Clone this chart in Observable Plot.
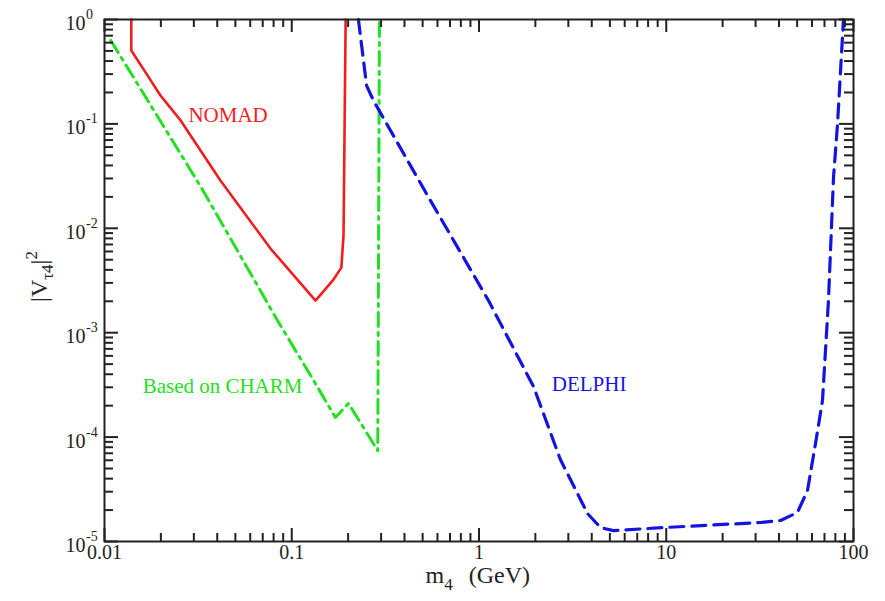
<!DOCTYPE html>
<html><head><meta charset="utf-8">
<script src="https://cdn.jsdelivr.net/npm/d3@7"></script>
<script src="https://cdn.jsdelivr.net/npm/@observablehq/plot@0.6"></script>
<style>body{margin:0;background:#fff}</style>
</head><body><div id="chart"></div>
<script>
// ---- data ----
const nomadX = [0.0139, 0.0139, 0.0166, 0.0199, 0.0255, 0.0416, 0.077, 0.134, 0.167, 0.184, 0.189, 0.194];
const nomadY = [1, 0.505, 0.31, 0.187, 0.108, 0.0287, 0.0064, 0.00203, 0.00323, 0.0042, 0.0085, 1];
const charmX = [0.0108, 0.0326, 0.0839, 0.129, 0.171, 0.201, 0.288, 0.294];
const charmY = [0.63, 0.0252, 0.00131, 3.64e-4, 1.54e-4, 2.10e-4, 7.4e-5, 1];
const delphiX = [0.227, 0.251, 0.273, 0.531, 1.124, 1.955, 2.72, 3.80, 4.46, 5.23, 9.67, 31.9, 40.8, 50.2, 56.8, 62.7, 68.3, 73.5, 78.2, 82.2, 88.4];
const delphiY = [1, 0.233, 0.1675, 0.0206, 0.00203, 3.05e-4, 6.1e-5, 1.85e-5, 1.36e-5, 1.27e-5, 1.36e-5, 1.52e-5, 1.59e-5, 1.9e-5, 3.08e-5, 8.7e-5, 2.24e-4, 2.03e-3, 0.0307, 0.101, 1];

const curveLabels = ["NOMAD", "Based on CHARM", "DELPHI"];
const curveLabelX = [0.0457, 0.0427, 3.87];
const curveLabelY = [0.1217, 3.09e-4, 3.23e-4];

const xTickValues = [0.01, 0.1, 1, 10, 100];
const xTickLabels = ["0.01", "0.1", "1", "10", "100"];
const yTickValues = [1, 0.1, 0.01, 0.001, 0.0001, 0.00001];
const yTickExponents = ["0", "-1", "-2", "-3", "-4", "-5"];
const minorMultipliers = [2, 3, 4, 5, 6, 7, 8, 9];

// ---- layout / style ----
const W = 885, H = 601, mL = 104, mR = 32, mT = 19, mB = 60;
const fw = W - mL - mR, fh = H - mT - mB;
const majX = 13, minX = 8, majY = 14, minY = 9;
const RED = "#f01e1e", GREEN = "#22e022", BLUE = "#1414e0";
const tickStyle = {stroke: "#222", strokeWidth: 2};

const pts = (xs, ys) => xs.map((x, i) => ({x, y: ys[i]}));
const xMinor = xTickValues.slice(0, -1).flatMap(d => minorMultipliers.map(m => d * m));
const yMinor = yTickValues.slice(1).flatMap(d => minorMultipliers.map(m => d * m));

const svg = Plot.plot({
  width: W, height: H,
  marginLeft: mL, marginRight: mR, marginTop: mT, marginBottom: mB,
  style: {fontFamily: "'Liberation Serif', 'Times New Roman', serif", fontSize: "20px", background: "#fff", color: "#222"},
  x: {type: "log", domain: [0.01, 100], axis: null},
  y: {type: "log", domain: [1e-5, 1], axis: null},
  marks: [
    Plot.line(pts(nomadX, nomadY), {x: "x", y: "y", stroke: RED, strokeWidth: 2.6}),
    Plot.line(pts(charmX, charmY), {x: "x", y: "y", stroke: GREEN, strokeWidth: 3, strokeDasharray: "14,6,3,6"}),
    Plot.line(pts(delphiX, delphiY), {x: "x", y: "y", stroke: BLUE, strokeWidth: 3.2, strokeDasharray: "14,8"}),

    Plot.text([0], {x: () => curveLabelX[0], y: () => curveLabelY[0], text: () => curveLabels[0], fill: RED, fontSize: 21}),
    Plot.text([1], {x: () => curveLabelX[1], y: () => curveLabelY[1], text: () => curveLabels[1], fill: GREEN, fontSize: 21}),
    Plot.text([2], {x: () => curveLabelX[2], y: () => curveLabelY[2], text: () => curveLabels[2], fill: BLUE, fontSize: 21}),

    // inward ticks, all four sides
    Plot.tickX(xMinor, {x: d => d, insetTop: fh - minX, ...tickStyle}),
    Plot.tickX(xTickValues, {x: d => d, insetTop: fh - majX, ...tickStyle}),
    Plot.tickX(xMinor, {x: d => d, insetBottom: fh - minX, ...tickStyle}),
    Plot.tickX(xTickValues, {x: d => d, insetBottom: fh - majX, ...tickStyle}),
    Plot.tickY(yMinor, {y: d => d, insetRight: fw - minY, ...tickStyle}),
    Plot.tickY(yTickValues, {y: d => d, insetRight: fw - majY, ...tickStyle}),
    Plot.tickY(yMinor, {y: d => d, insetLeft: fw - minY, ...tickStyle}),
    Plot.tickY(yTickValues, {y: d => d, insetLeft: fw - majY, ...tickStyle}),
    Plot.frame({stroke: "#222", strokeWidth: 2}),

    // tick labels
    Plot.text(xTickValues, {x: d => d, frameAnchor: "bottom", text: (d, i) => xTickLabels[i], dy: 17, fontSize: 20, fill: "#222"}),
    Plot.text(yTickValues, {y: d => d, frameAnchor: "left", text: () => "10", textAnchor: "end", dx: -19, dy: 4, fontSize: 20, fill: "#222"}),
    Plot.text(yTickValues, {y: d => d, frameAnchor: "left", text: (d, i) => yTickExponents[i], textAnchor: "start", dx: -18.5, dy: -5, fontSize: 14, fill: "#222"}),

    // axis labels (rich text added below)
    Plot.text(["x"], {frameAnchor: "bottom", text: () => "m", textAnchor: "start", dx: 425 - (mL + fw / 2), dy: 41, fontSize: 24, fill: "#222"}),
    Plot.text(["y"], {frameAnchor: "left", text: () => "|V", rotate: -90, textAnchor: "middle", dx: -65, dy: -4, fontSize: 24, fill: "#222"})
  ]
});
document.getElementById("chart").append(svg);

const NS = "http://www.w3.org/2000/svg";
function rich(content, parts) {
  const t = Array.from(svg.querySelectorAll("text")).find(e => e.textContent === content);
  if (!t) return;
  t.textContent = "";
  for (const p of parts) {
    const s = document.createElementNS(NS, "tspan");
    s.textContent = p.t;
    if (p.size) s.setAttribute("font-size", p.size);
    if (p.dy) s.setAttribute("dy", p.dy);
    if (p.dx) s.setAttribute("dx", p.dx);
    t.append(s);
  }
}
rich("m", [{t: "m"}, {t: "4", size: 17, dy: 7}, {t: "(GeV)", size: 24, dy: -7, dx: 16}]);
rich("|V", [{t: "|V"}, {t: "τ4", size: 17, dy: 6}, {t: "|", size: 24, dy: -6}, {t: "2", size: 17, dy: -10}]);
</script>
</body></html>
